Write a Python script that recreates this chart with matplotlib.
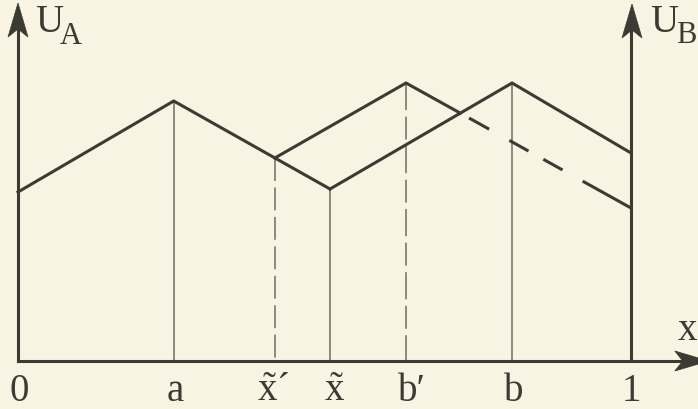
import numpy as np
import matplotlib
matplotlib.use("Agg")
import matplotlib.pyplot as plt
from matplotlib.patches import Polygon
import matplotlib.transforms as mtransforms

plt.rcParams["font.family"] = ["Liberation Serif", "DejaVu Serif"]
plt.rcParams["mathtext.fontset"] = "custom"
plt.rcParams["mathtext.rm"] = "Liberation Serif"
plt.rcParams["mathtext.it"] = "Liberation Serif:italic"
plt.rcParams["lines.scale_dashes"] = False

# positions on the x axis
tick_labels = ["0", "a", r"$\tilde{\mathrm{x}}$´", r"$\tilde{\mathrm{x}}$", "b′", "b", "1"]
x0, xa, xtp, xt, xbp, xb, x1 = 0.0, 0.254, 0.419, 0.509, 0.633, 0.806, 1.0
tick_pos = [x0, xa, xtp, xt, xbp, xb, x1]

# utility of A: rises to a, falls to x~
ua_x = [x0, xa, xt]
ua_y = [1.69, 2.60, 1.72]
# utility of B: rises from x~ to b, falls to 1
ub_x = [xt, xb, x1]
ub_y = [1.72, 2.78, 2.08]
# shifted utility of B: rises from x~' to b', falls to 1
ubp_x = [xtp, xbp, x1]
ubp_y = [2.03, 2.78, 1.53]

bg = "#f8f3e2"
ink = "#3b3a33"
thin = "#6e6d63"

fig = plt.figure(figsize=(6.98, 4.09), dpi=100, facecolor=bg)
ax = fig.add_axes([0, 0, 1, 1])
ax.set_facecolor(bg)
ax.set_xlim(-18 / 613, 1 + 67 / 613)
ax.set_ylim(-0.48, 3.61)
ax.axis("off")

lw_main = 2.2
lw_thin = 1.1

# vertical guides
ax.plot([xa, xa], [ua_y[1], 0], color=thin, lw=lw_thin)
ax.plot([xt, xt], [ua_y[2], 0], color=thin, lw=lw_thin)
ax.plot([xb, xb], [ub_y[1], 0], color=thin, lw=lw_thin)
ax.plot([xtp, xtp], [ubp_y[0], 0], color=thin, lw=lw_thin,
        linestyle=(0, (16.5, 4.7)))
ax.plot([xbp, xbp], [ubp_y[1], 0], color=thin, lw=lw_thin,
        linestyle=(0, (19.5, 4.7, 16.5, 4.7)))

# crossing of B' falling branch with B rising branch
s1 = (ub_y[1] - ub_y[0]) / (ub_x[1] - ub_x[0])
s2 = (ubp_y[2] - ubp_y[1]) / (ubp_x[2] - ubp_x[1])
xc = (ubp_y[1] - s2 * ubp_x[1] - ub_y[0] + s1 * ub_x[0]) / (s1 - s2)
yc = ub_y[0] + s1 * (xc - ub_x[0])

ax.plot(ua_x, ua_y, color=ink, lw=lw_main, solid_joinstyle="miter")
ax.plot(ub_x, ub_y, color=ink, lw=lw_main, solid_joinstyle="miter")
ax.plot([ubp_x[0], ubp_x[1], xc], [ubp_y[0], ubp_y[1], yc], color=ink,
        lw=lw_main, solid_joinstyle="miter")
ax.plot([xc, ubp_x[2]], [yc, ubp_y[2]], color=ink, lw=lw_main,
        dash_capstyle="butt",
        linestyle=(136.6, (16.6, 16.6, 15.8, 12.2, 15.8, 16.6, 43.0, 7.2)))

# axes
ytop = 3.58
ax.plot([x0, x0], [0, ytop - 0.2], color=ink, lw=2.2, solid_capstyle="projecting")
ax.plot([x1, x1], [0, ytop - 0.2], color=ink, lw=2.2, solid_capstyle="butt")
xend = 1 + 79 / 613
ax.plot([x0, xend - 0.03], [0, 0], color=ink, lw=2.2, solid_capstyle="projecting")


def head(xd, yd, direction):
    # stealth arrow head with its tip at (xd, yd); sizes in inches
    L, W, N = 0.34, 0.10, 0.26
    if direction == "right":
        pts = np.array([[0, 0], [-L, W], [-N, 0], [-L, -W]])
    else:
        pts = np.array([[0, 0], [-W, -L], [0, -N], [W, -L]])
    tr = fig.dpi_scale_trans + mtransforms.ScaledTranslation(xd, yd, ax.transData)
    ax.add_patch(Polygon(pts, closed=True, facecolor=ink, edgecolor=ink,
                         lw=0.5, transform=tr))


head(x0, ytop, "up")
head(x1 + 1 / 613, ytop - 0.01, "up")
head(1 + 79 / 613 - 0.002, 0, "right")

# labels
fs = 28
ax.text(x0 + 17 / 613, 3.29, "U", fontsize=fs, color=ink, ha="left", va="baseline")
ax.text(x0 + 42 / 613, 3.17, "A", fontsize=22, color=ink, ha="left", va="baseline")
ax.text(1 + 19 / 613, 3.29, "U", fontsize=fs, color=ink, ha="left", va="baseline")
ax.text(1 + 45 / 613, 3.18, "B", fontsize=22, color=ink, ha="left", va="baseline")
ax.text(1 + 56 / 613, 0.21, "x", fontsize=fs, color=ink, ha="center", va="baseline")

offsets = [1 / 613, 2 / 613, -2 / 613, 4 / 613, 6 / 613, 2 / 613, 0]
for lab, p, o in zip(tick_labels, tick_pos, offsets):
    ax.text(p + o, -0.40, lab, fontsize=fs, color=ink, ha="center", va="baseline")

fig.savefig("out.png", dpi=100, facecolor=bg)
